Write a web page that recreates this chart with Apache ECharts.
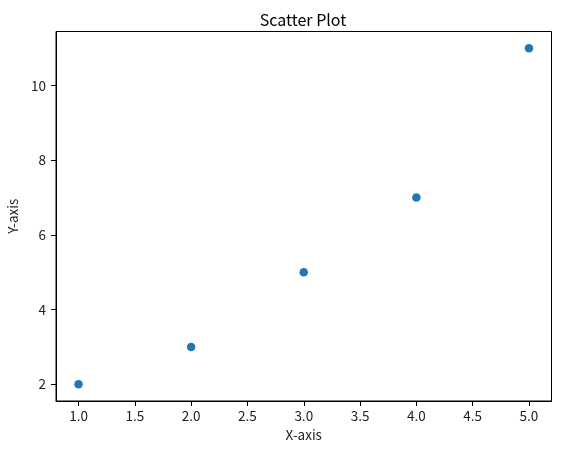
<!DOCTYPE html>
<html><head><meta charset="utf-8">
<script src="https://cdn.jsdelivr.net/npm/echarts@6/dist/echarts.min.js"></script>
<style>html,body{margin:0;padding:0;background:#fff}#c{width:561px;height:452px}</style>
</head><body><div id="c"></div>
<script>
const xValues = [1, 2, 3, 4, 5];
const yValues = [2, 3, 5, 7, 11];
const xTicks = [1.0, 1.5, 2.0, 2.5, 3.0, 3.5, 4.0, 4.5, 5.0];
const yTicks = [2, 4, 6, 8, 10];
const FONT = '"Noto Sans CJK KR", "DejaVu Sans", sans-serif';
const chart = echarts.init(document.getElementById('c'), null, {renderer: 'canvas'});
const axisCommon = {
  axisLine: {show: true, onZero: false, lineStyle: {color: '#000', width: 1}},
  axisTick: {show: true, inside: false, length: 5, lineStyle: {color: '#000', width: 1}},
  splitLine: {show: false},
  axisLabel: {color: '#222', fontSize: 13.5, fontFamily: FONT},
  nameTextStyle: {color: '#222', fontSize: 13.5, fontFamily: FONT}
};
chart.setOption({
  animation: false,
  title: {text: 'Scatter Plot', left: 298, textAlign: 'center', top: 7,
    textStyle: {fontSize: 16, fontWeight: 'normal', color: '#000', fontFamily: FONT}},
  grid: {left: 56, right: 9.5, top: 31.5, bottom: 51, containLabel: false,
    outerBoundsMode: 'none',
    show: true, borderColor: '#000', borderWidth: 1},
  xAxis: Object.assign({}, axisCommon, {
    type: 'value', min: 0.8, max: 5.2, name: 'X-axis', nameLocation: 'middle', nameGap: 27,
    axisTick: Object.assign({}, axisCommon.axisTick, {customValues: xTicks}),
    axisLabel: Object.assign({}, axisCommon.axisLabel, {customValues: xTicks, margin: 8.5,
      formatter: v => v.toFixed(1)})
  }),
  yAxis: Object.assign({}, axisCommon, {
    type: 'value', min: 1.55, max: 11.45, name: 'Y-axis', nameLocation: 'middle', nameGap: 33,
    axisTick: Object.assign({}, axisCommon.axisTick, {customValues: yTicks}),
    axisLabel: Object.assign({}, axisCommon.axisLabel, {customValues: yTicks, margin: 10,
      formatter: v => String(v)})
  }),
  series: [{
    type: 'scatter', symbol: 'circle', symbolSize: 8.5,
    itemStyle: {color: '#1f77b4', opacity: 1},
    data: xValues.map((x, i) => [x, yValues[i]])
  }]
});
</script></body></html>
